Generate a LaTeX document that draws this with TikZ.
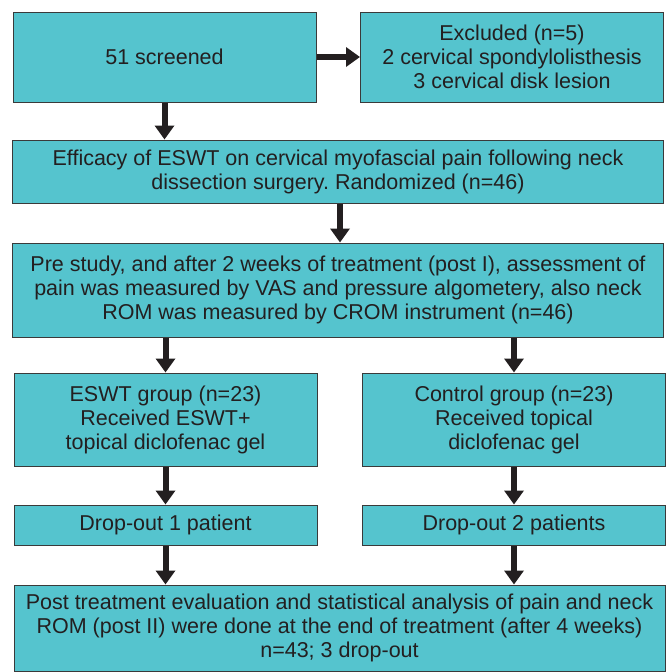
\documentclass[tikz,border=0pt]{standalone}
\usepackage{fontspec}
\setmainfont{Liberation Sans}
\usepackage{tikz}
\usetikzlibrary{arrows.meta,positioning,calc}
\definecolor{boxfill}{HTML}{55C4CE}
\definecolor{boxline}{HTML}{3A3A3A}
\definecolor{inkdark}{HTML}{231F20}
\frenchspacing

\begin{document}
\begin{tikzpicture}[x=1pt, y=-1pt]
\tikzstyle{main}=[rectangle, draw=boxline, line width=1pt, fill=boxfill, text=inkdark, align=center, inner sep=0pt, font=\fontsize{21.5}{24}\selectfont]
\tikzstyle{half}=[main, minimum width=303pt]
\tikzstyle{full}=[main, minimum width=651pt]
\tikzstyle{connect}=[-{Triangle[length=14pt, width=19pt]}, line width=6pt, draw=inkdark]

  \useasboundingbox (0,0) rectangle (670,672);

  \node[half, minimum height=90pt] (screened) at (164.5,57) {51 screened};
  \node[half, minimum height=90pt] (excluded) at (512,57)   {Excluded (n=5)\\2 cervical spondylolisthesis\\3 cervical disk lesion};

  \node[full, minimum height=63pt] (efficacy) at (338,171.5) {Efficacy of ESWT on cervical myofascial pain following neck\\dissection surgery. Randomized (n=46)};
  \node[full, minimum height=94pt] (prestudy) at (338,290)   {Pre study, and after 2 weeks of treatment (post I), assessment of\\pain was measured by VAS and pressure algometery, also neck\\ROM was measured by CROM instrument (n=46)};

  \node[half, minimum height=93pt] (eswt)    at (165.5,419.5) {ESWT group (n=23)\\Received ESWT+\\topical diclofenac gel};
  \node[half, minimum height=93pt] (control) at (514,419.5)   {Control group (n=23)\\Received topical\\diclofenac gel};

  \node[half, minimum height=40pt] (drop1) at (165.5,525) {Drop-out 1 patient};
  \node[half, minimum height=40pt] (drop2) at (514,525)   {Drop-out 2 patients};

  \node[full, minimum height=86pt] (final) at (339.5,628) {Post treatment evaluation and statistical analysis of pain and neck\\ROM (post II) were done at the end of treatment (after 4 weeks)\\n=43; 3 drop-out};

  % arrows
  \draw[connect] (screened.east) -- (excluded.west);
  \draw[connect] (screened.south) -- (screened.south |- efficacy.north);
  \draw[connect] ([xshift=2pt]efficacy.south) -- ([xshift=2pt]prestudy.north);
  \draw[connect] (prestudy.south -| eswt.north) -- (eswt.north);
  \draw[connect] (prestudy.south -| control.north) -- (control.north);
  \draw[connect] (eswt.south) -- (drop1.north);
  \draw[connect] (control.south) -- (drop2.north);
  \draw[connect] (drop1.south) -- (drop1.south |- final.north);
  \draw[connect] (drop2.south) -- (drop2.south |- final.north);

\end{tikzpicture}
\end{document}
